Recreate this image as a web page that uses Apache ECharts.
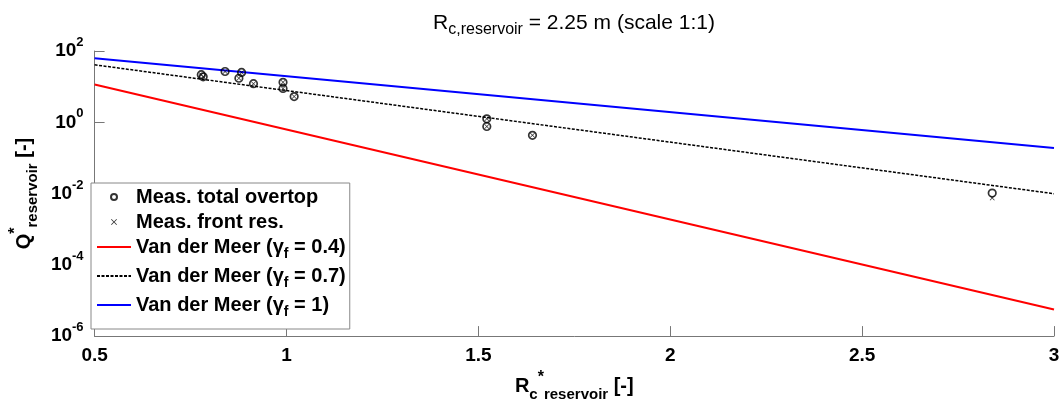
<!DOCTYPE html>
<html>
<head>
<meta charset="utf-8">
<script src="https://cdn.jsdelivr.net/npm/echarts@6/dist/echarts.min.js"></script>
<style>
  html, body { margin: 0; padding: 0; background: #ffffff; }
  #chart { width: 1063px; height: 407px; }
</style>
</head>
<body>
<div id="chart"></div>
<script>
// Measured dimensionless crest freeboard (x) and overtopping discharge (y)
const measX = [0.778, 0.783, 0.840, 0.883, 0.876, 0.914, 0.991, 0.991, 1.020, 1.522, 1.522, 1.641, 2.839];
const totalOvertopQ = [21.7, 18.8, 26.6, 25.0, 17.2, 12.1, 13.2, 8.9, 5.26, 1.25, 0.76, 0.43, 0.0103];
const frontResQ = [21.7, 18.8, 26.6, 25.0, 17.2, 12.1, 13.2, 8.9, 5.26, 1.25, 0.76, 0.43, 0.0075];

// Van der Meer prediction lines (straight on the log axis, given by their end points)
const vdmX = [0.5, 3];
const vdmQ04 = [11.5, 5.6e-6];
const vdmQ07 = [41, 0.0099];
const vdmQ10 = [63, 0.19];

const seriesNames = [
  'Meas. total overtop',
  'Meas. front res.',
  'Van der Meer (γf = 0.4)',
  'Van der Meer (γf = 0.7)',
  'Van der Meer (γf = 1)'
];
const legendGammas = { 'Van der Meer (γf = 0.4)': '0.4', 'Van der Meer (γf = 0.7)': '0.7', 'Van der Meer (γf = 1)': '1' };

const xMin = 0.5, xMax = 3, xStep = 0.5;
const yMin = 1e-6, yMax = 1e2, yDecadeStep = 2;

const FONT = '"Liberation Sans", Arial, Helvetica, sans-serif';
const AXIS_GREY = '#777777';

function pairs(xs, ys) { return xs.map((x, i) => [x, ys[i]]); }

const crossPath = 'path://M0,1L1,0L5,4L9,0L10,1L6,5L10,9L9,10L5,6L1,10L0,9L4,5Z';

// legend entries; line entries hide the marker dot so only the stroke shows
const legendData = seriesNames.map((n, i) => i < 2 ? { name: n } : { name: n, itemStyle: { opacity: 0 } });

const chart = echarts.init(document.getElementById('chart'), null, { renderer: 'canvas' });

chart.setOption({
  animation: false,
  backgroundColor: '#ffffff',
  title: {
    text: '{n|R}{sub|c,reservoir}{n| = 2.25 m (scale 1:1)}',
    left: 569,
    top: 3,
    textAlign: 'center',
    textStyle: {
      rich: {
        n: { fontFamily: FONT, fontSize: 21, fontWeight: 'normal', color: '#000', lineHeight: 30, verticalAlign: 'middle' },
        sub: { fontFamily: FONT, fontSize: 16, fontWeight: 'normal', color: '#000', lineHeight: 30, verticalAlign: 'bottom' }
      }
    }
  },
  grid: { left: 84, right: 9, top: 51, bottom: 59, containLabel: false },
  legend: {
    orient: 'vertical',
    left: 91,
    top: 183,
    padding: [4, 4, 10, 5],
    itemGap: 5,
    itemWidth: 34,
    itemHeight: 6,
    borderColor: '#888888',
    borderWidth: 1,
    backgroundColor: '#ffffff',
    selectedMode: false,
    data: legendData,
    formatter: function (name) {
      if (legendGammas[name]) {
        return '{n|Van der Meer (γ}{sub|f}{n| = ' + legendGammas[name] + ')}';
      }
      return '{p|' + name + '}';
    },
    textStyle: {
      rich: {
        p: { fontFamily: FONT, fontSize: 20, fontWeight: 'bold', color: '#000', lineHeight: 22 },
        n: { fontFamily: FONT, fontSize: 20, fontWeight: 'bold', color: '#000', lineHeight: 28, verticalAlign: 'middle' },
        sub: { fontFamily: FONT, fontSize: 14, fontWeight: 'bold', color: '#000', lineHeight: 28, verticalAlign: 'bottom' }
      }
    }
  },
  xAxis: {
    type: 'value',
    min: xMin,
    max: xMax,
    interval: xStep,
    name: '{n|R}{sub|c}{sup|*}{sub|reservoir}{n| [-]}',
    nameLocation: 'middle',
    nameGap: 22,
    nameTextStyle: {
      rich: {
        n: { fontFamily: FONT, fontSize: 20, fontWeight: 'bold', color: '#000', lineHeight: 32, verticalAlign: 'middle' },
        sub: { fontFamily: FONT, fontSize: 15, fontWeight: 'bold', color: '#000', lineHeight: 32, verticalAlign: 'bottom' },
        sup: { fontFamily: FONT, fontSize: 16, fontWeight: 'bold', color: '#000', lineHeight: 32, verticalAlign: 'top' }
      }
    },
    axisLine: { show: true, lineStyle: { color: AXIS_GREY, width: 1 } },
    axisTick: { show: true, inside: true, length: 10, lineStyle: { color: AXIS_GREY, width: 1 } },
    axisLabel: {
      margin: 10,
      fontFamily: FONT, fontSize: 19, fontWeight: 'bold', color: '#000',
      formatter: function (v) { return String(v); }
    },
    splitLine: { show: false }
  },
  yAxis: {
    type: 'log',
    logBase: 10,
    min: yMin,
    max: yMax,
    interval: yDecadeStep,
    name: '{n|Q}{sup|*}{sub|reservoir}{n| [-]}',
    nameLocation: 'middle',
    nameRotate: 90,
    nameGap: 46,
    nameTextStyle: {
      rich: {
        n: { fontFamily: FONT, fontSize: 20, fontWeight: 'bold', color: '#000', lineHeight: 32, verticalAlign: 'middle' },
        sub: { fontFamily: FONT, fontSize: 15, fontWeight: 'bold', color: '#000', lineHeight: 32, verticalAlign: 'bottom' },
        sup: { fontFamily: FONT, fontSize: 16, fontWeight: 'bold', color: '#000', lineHeight: 32, verticalAlign: 'top' }
      }
    },
    axisLine: { show: true, lineStyle: { color: AXIS_GREY, width: 1 } },
    axisTick: { show: true, inside: true, length: 10, lineStyle: { color: AXIS_GREY, width: 1 } },
    minorTick: { show: false },
    axisLabel: {
      margin: 11,
      formatter: function (v) {
        const e = Math.round(Math.log10(v));
        return '{b|10}{s|' + e + '}';
      },
      rich: {
        b: { fontFamily: FONT, fontSize: 19, fontWeight: 'bold', color: '#000', lineHeight: 30, verticalAlign: 'middle' },
        s: { fontFamily: FONT, fontSize: 13, fontWeight: 'bold', color: '#000', lineHeight: 30, verticalAlign: 'top' }
      }
    },
    splitLine: { show: false }
  },
  series: [
    {
      name: seriesNames[0],
      type: 'scatter',
      data: pairs(measX, totalOvertopQ),
      symbol: 'circle',
      symbolSize: 7.5,
      itemStyle: { color: 'rgba(0,0,0,0)', borderColor: '#000', borderWidth: 1.7 },
      z: 5
    },
    {
      name: seriesNames[1],
      type: 'scatter',
      data: pairs(measX, frontResQ),
      symbol: crossPath,
      symbolSize: 5,
      itemStyle: { color: '#000' },
      z: 6
    },
    {
      name: seriesNames[2],
      type: 'line',
      data: pairs(vdmX, vdmQ04),
      symbol: 'none',
      lineStyle: { color: '#ff0000', width: 2 },
      itemStyle: { color: '#ff0000' },
      z: 3
    },
    {
      name: seriesNames[3],
      type: 'line',
      data: pairs(vdmX, vdmQ07),
      symbol: 'none',
      lineStyle: { color: '#000000', width: 1.5, type: [3, 1.5] },
      itemStyle: { color: '#000000' },
      z: 3
    },
    {
      name: seriesNames[4],
      type: 'line',
      data: pairs(vdmX, vdmQ10),
      symbol: 'none',
      lineStyle: { color: '#0000ff', width: 2 },
      itemStyle: { color: '#0000ff' },
      z: 3
    }
  ]
});
</script>
</body>
</html>
